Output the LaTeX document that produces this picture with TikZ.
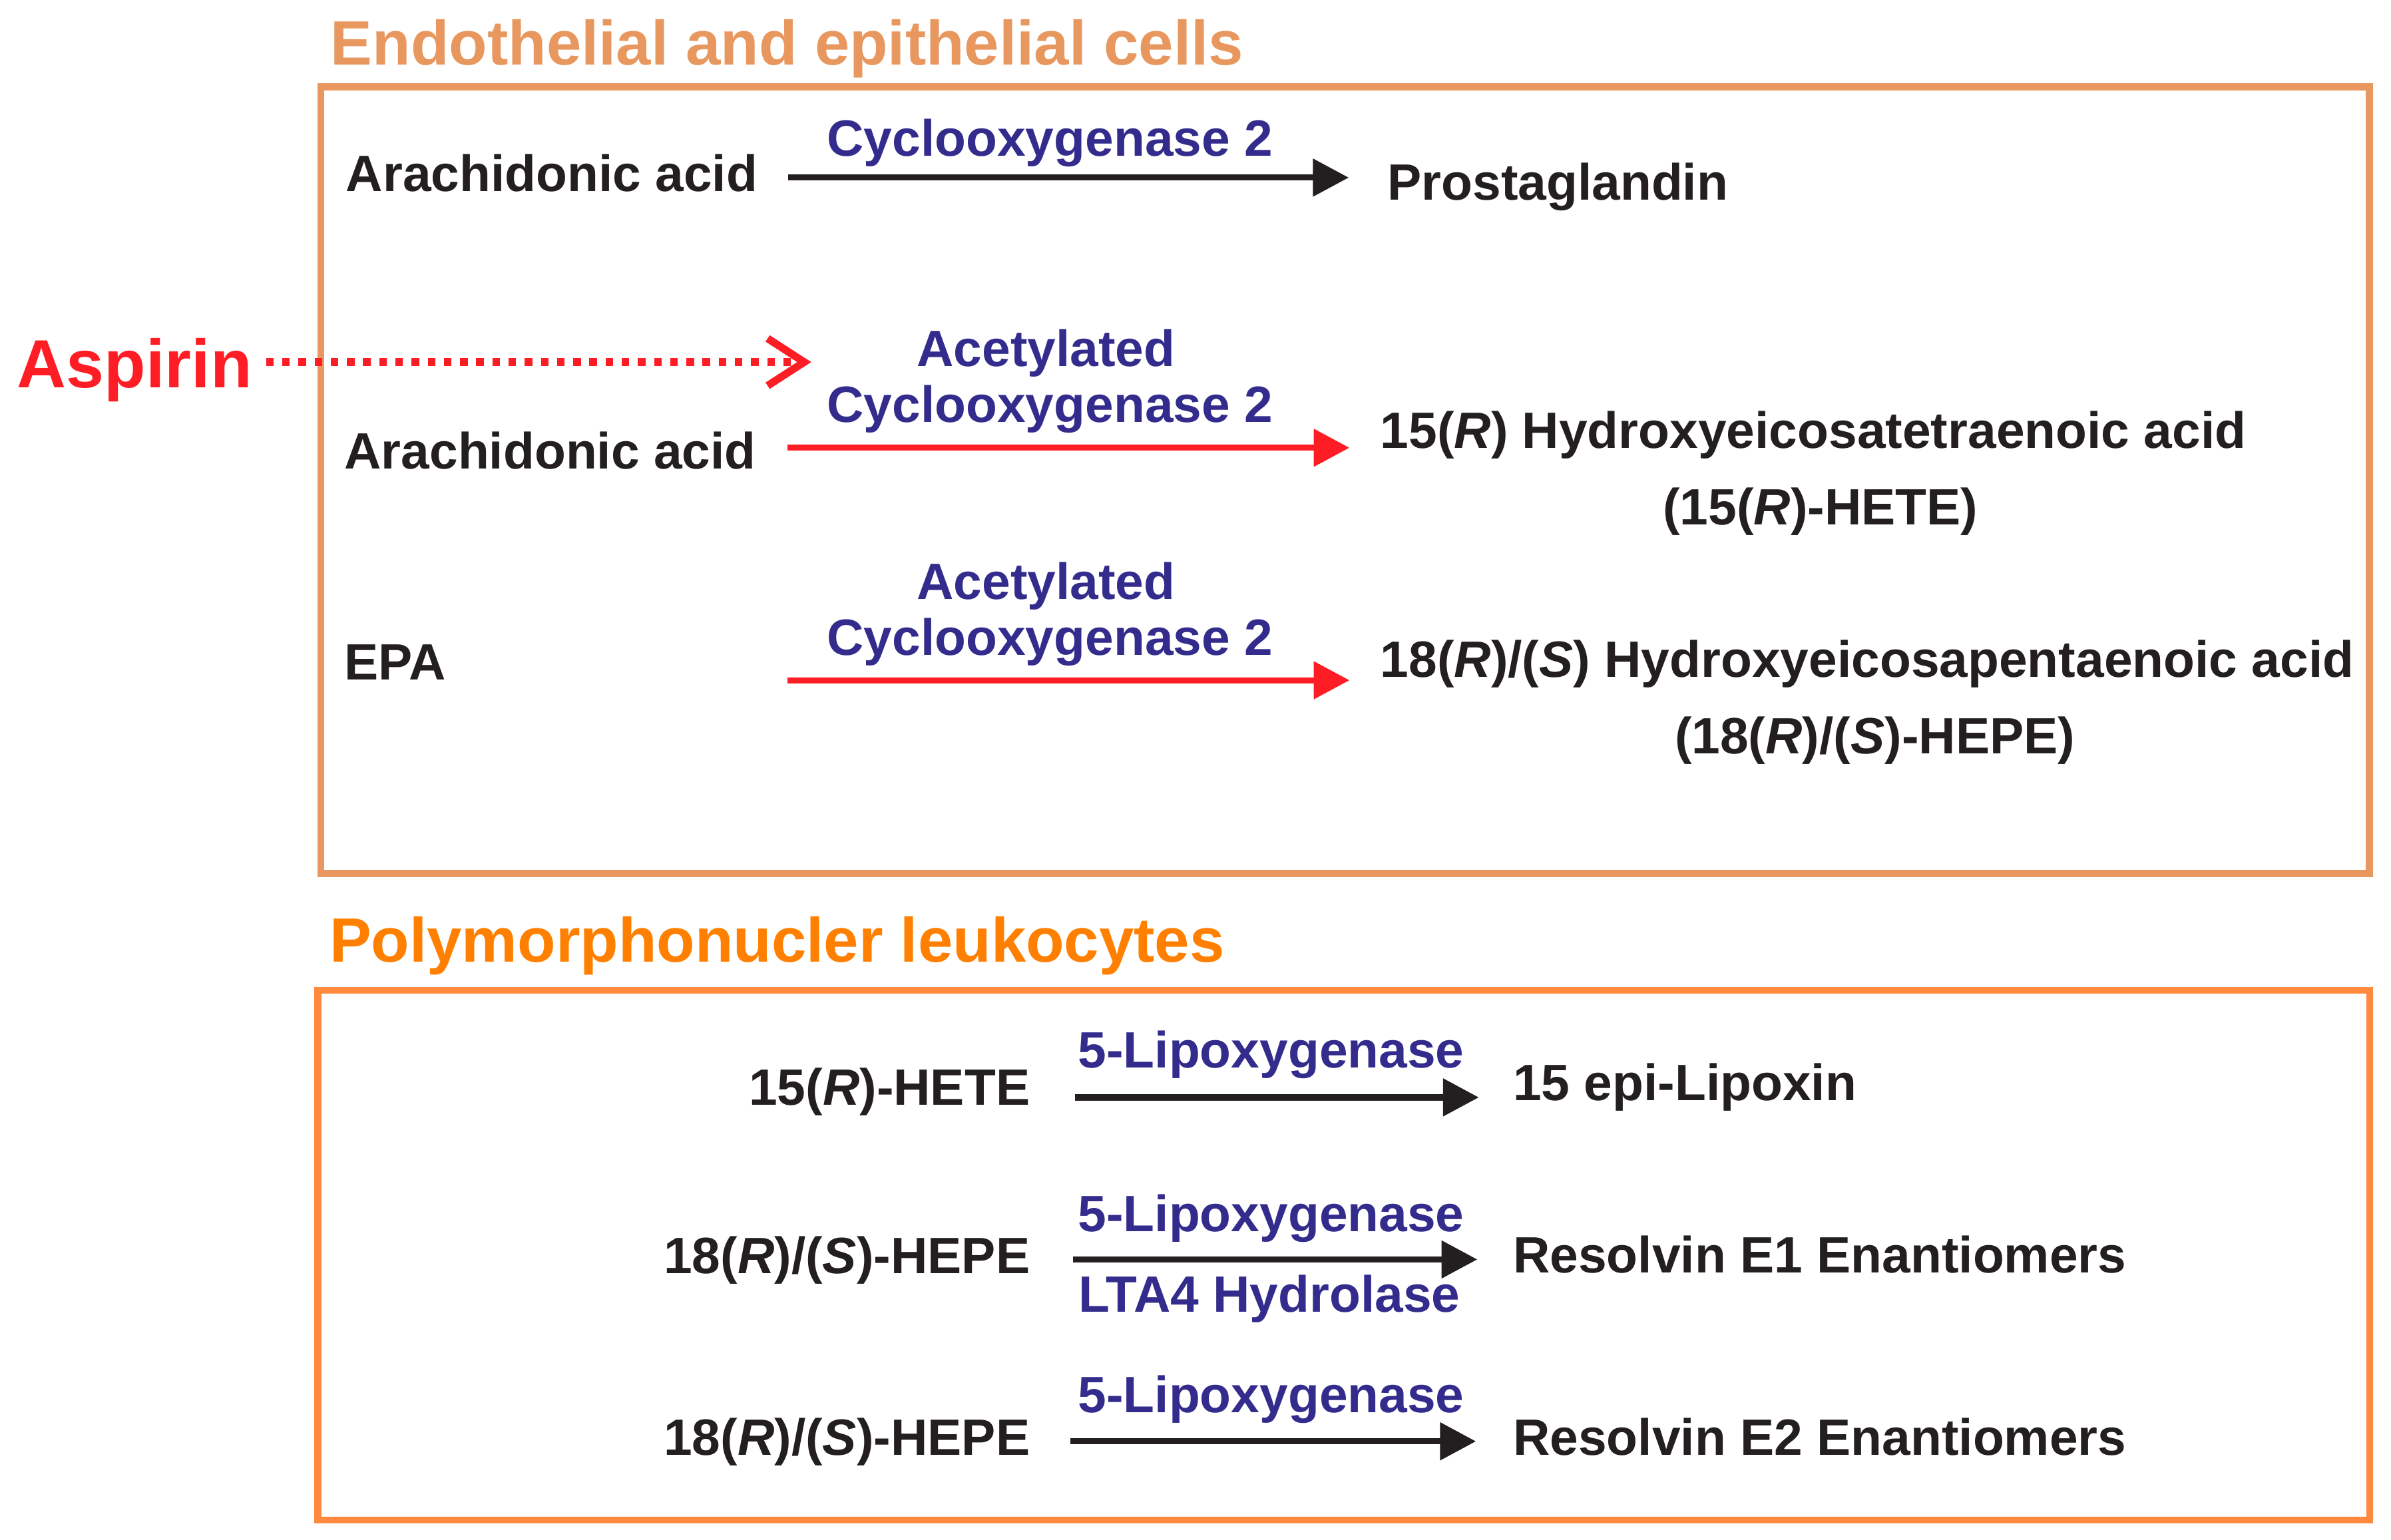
\documentclass[tikz,border=0pt]{standalone}
\usepackage{fontspec}
\setmainfont{Liberation Sans}
\usetikzlibrary{arrows.meta}
\definecolor{boxA}{HTML}{E8975F}
\definecolor{titleB}{HTML}{FF8000}
\definecolor{boxB}{HTML}{FF8A3D}
\definecolor{ink}{HTML}{231F20}
\definecolor{enzblue}{HTML}{332C8C}
\definecolor{asred}{HTML}{FF1D25}
\tikzset{
  txt/.style={inner sep=0pt, text=ink, font=\fontsize{16.75}{20}\selectfont\bfseries},
  enz/.style={inner sep=0pt, text=enzblue, font=\fontsize{16.75}{20}\selectfont\bfseries},
  ttl/.style={inner sep=0pt, font=\fontsize{20.55}{24}\selectfont\bfseries},
  boxline/.style={line width=2.35pt},
  arr/.style={line width=2pt, -{Triangle[length=11.75pt,width=12pt]}},
  dotarr/.style={asred, line width=2.6pt, dash pattern=on 2.5pt off 2.8pt,
     -{Straight Barb[length=12pt,width=15.5pt,line width=2.5pt]}}
}
\begin{document}
\begin{tikzpicture}[x=0.5pt,y=-0.5pt]
\useasboundingbox (0,0) rectangle (1568,1010.1);
% titles and boxes
\node[ttl, text=boxA, anchor=base west] (t1) at (216.5,42.5) {Endothelial and epithelial cells};
\draw[boxline, boxA] (210.4,57) rectangle (1553.7,573);
\node[ttl, text=titleB, anchor=base west] (t2) at (215.7,631) {Polymorphonucler leukocytes};
\draw[boxline, boxB] (208.5,649.5) rectangle (1554,997);

% row 1
\node[txt, anchor=base west] (aa1) at (226.5,125.7) {Arachidonic acid};
\node[enz, anchor=base] (cox1) at (688.5,102.3) {Cyclooxygenase 2};
\node[txt, anchor=base west] (pg) at (909.5,131.3) {Prostaglandin};
\coordinate (s1) at (517,116.5);
\coordinate (e1) at (884.5,116.5);
\draw[arr, ink] (s1) -- (e1);

% aspirin
\node[inner sep=0pt, text=asred, font=\fontsize{22.35}{26}\selectfont\bfseries, anchor=base west] (asp) at (10.9,254.2) {Aspirin};
\coordinate (ds) at (174.5,237.5);
\coordinate (de) at (532,237.5);
\draw[dotarr] (ds) -- (de);

% row 2
\node[enz, anchor=base] (ac2) at (686,240.3) {Acetylated};
\node[enz, anchor=base] (cox2) at (688.5,277) {Cyclooxygenase 2};
\node[txt, anchor=base west] (aa2) at (225.5,307.5) {Arachidonic acid};
\node[txt, anchor=base west] (hete) at (904.8,294) {15(\textit{R}) Hydroxyeicosatetraenoic acid};
\node[txt, anchor=base] (hete2) at (1193.8,344) {(15(\textit{R})-HETE)};
\coordinate (s2) at (516.6,293.7);
\coordinate (e2) at (885,293.7);
\draw[arr, asred] (s2) -- (e2);

% row 3
\node[enz, anchor=base] (ac3) at (686,392.9) {Acetylated};
\node[enz, anchor=base] (cox3) at (688.5,429.7) {Cyclooxygenase 2};
\node[txt, anchor=base west] (epa) at (225.5,446) {EPA};
\node[txt, anchor=base west] (hepe) at (904.8,444.2) {18(\textit{R})/(\textit{S}) Hydroxyeicosapentaenoic acid};
\node[txt, anchor=base] (hepe2) at (1229.5,494.3) {(18(\textit{R})/(\textit{S})-HEPE)};
\coordinate (s3) at (516.6,446.2);
\coordinate (e3) at (885,446.2);
\draw[arr, asred] (s3) -- (e3);

% bottom row 1
\node[txt, anchor=base east] (b1) at (675.8,725) {15(\textit{R})-HETE};
\node[enz, anchor=base] (lox1) at (833.6,700.4) {5-Lipoxygenase};
\node[txt, anchor=base west] (lip) at (991.9,721.7) {15 epi-Lipoxin};
\coordinate (bs1) at (704.9,719.8);
\coordinate (be1) at (969.8,719.8);
\draw[arr, ink] (bs1) -- (be1);

% bottom row 2
\node[txt, anchor=base east] (b2) at (675.8,835.4) {18(\textit{R})/(\textit{S})-HEPE};
\node[enz, anchor=base] (lox2) at (833.6,807.9) {5-Lipoxygenase};
\node[enz, anchor=base] (lta) at (832.5,860.5) {LTA4 Hydrolase};
\node[txt, anchor=base west] (rv1) at (991.9,834.9) {Resolvin E1 Enantiomers};
\coordinate (bs2) at (703.8,826.1);
\coordinate (be2) at (968.8,826.1);
\draw[arr, ink] (bs2) -- (be2);

% bottom row 3
\node[txt, anchor=base east] (b3) at (675.8,954.4) {18(\textit{R})/(\textit{S})-HEPE};
\node[enz, anchor=base] (lox3) at (833.6,926.6) {5-Lipoxygenase};
\node[txt, anchor=base west] (rv2) at (991.9,954.3) {Resolvin E2 Enantiomers};
\coordinate (bs3) at (701.9,945.4);
\coordinate (be3) at (967.9,945.4);
\draw[arr, ink] (bs3) -- (be3);
\end{tikzpicture}
\end{document}
